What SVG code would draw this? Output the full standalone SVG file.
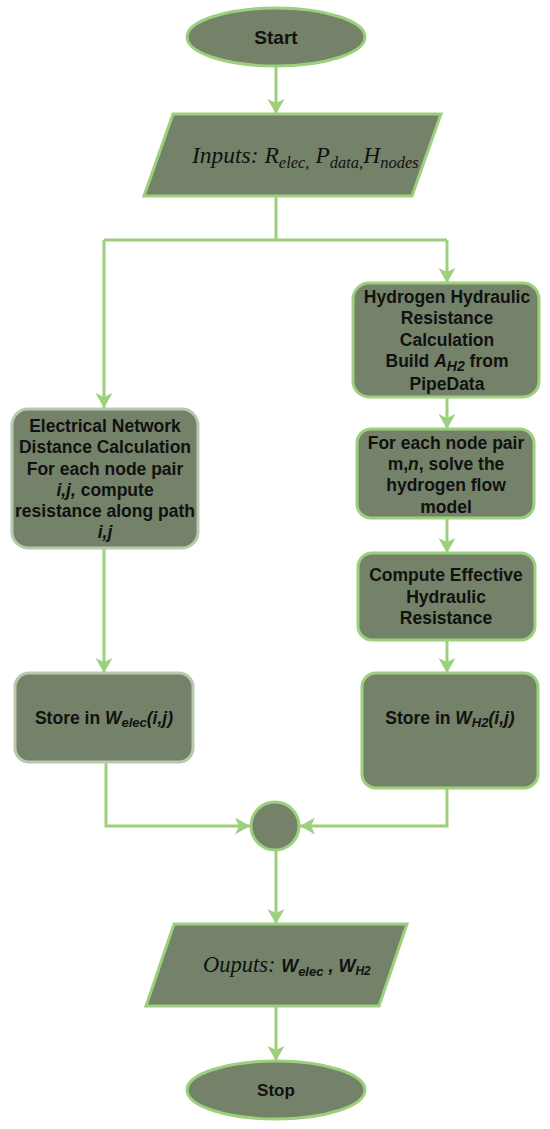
<svg xmlns="http://www.w3.org/2000/svg" width="550" height="1129" viewBox="0 0 550 1129">
<style>
.node{fill:#74826a;stroke:#9dd07c;stroke-width:3}
.pale{fill:#74826a;stroke:#b8c9ad;stroke-width:3}
.conn{fill:none;stroke:#9dd07c;stroke-width:3}
.t{font-family:"Liberation Sans",Arial,sans-serif;font-weight:bold;font-size:17.5px;fill:#111;text-anchor:middle}
.s{font-family:"Liberation Serif","Times New Roman",serif;font-style:italic;fill:#111}
.i{font-style:italic}
</style>
<defs>
<marker id="ah" markerUnits="userSpaceOnUse" markerWidth="15" markerHeight="17" viewBox="0 0 15 17" refX="15" refY="8.5" orient="auto">
<path d="M0,0 L15,8.5 L0,17 L4,8.5 z" fill="#9dd07c"/>
</marker>
</defs>
<g id="connectors">
<line class="conn" x1="276" y1="66" x2="276" y2="114" marker-end="url(#ah)"/>
<polyline class="conn" points="276,196 276,240"/>
<polyline class="conn" points="104,240 447,240"/>
<line class="conn" x1="104" y1="240" x2="104" y2="408" marker-end="url(#ah)"/>
<line class="conn" x1="447" y1="240" x2="447" y2="283" marker-end="url(#ah)"/>
<line class="conn" x1="447" y1="397" x2="447" y2="429" marker-end="url(#ah)"/>
<line class="conn" x1="447" y1="518" x2="447" y2="553" marker-end="url(#ah)"/>
<line class="conn" x1="447" y1="640" x2="447" y2="673" marker-end="url(#ah)"/>
<line class="conn" x1="104" y1="548" x2="104" y2="673" marker-end="url(#ah)"/>
<polyline class="conn" points="106,762 106,826 250,826" marker-end="url(#ah)"/>
<polyline class="conn" points="447,788 447,826 300,826" marker-end="url(#ah)"/>
<line class="conn" x1="276" y1="850" x2="276" y2="924" marker-end="url(#ah)"/>
<line class="conn" x1="276" y1="1006" x2="276" y2="1061" marker-end="url(#ah)"/>
</g>
<g id="start">
<ellipse class="node" cx="276" cy="37" rx="89" ry="29"/>
<text class="t" x="276" y="44" style="font-size:19px">Start</text>
</g>
<g id="inputs">
<polygon class="node" points="173,114 441,114 412,196 144,196"/>
<text class="s" x="192" y="163" style="font-size:23.5px">Inputs: R<tspan font-size="16.5" dy="5">elec,</tspan><tspan dy="-5"> P</tspan><tspan font-size="16.5" dy="5">data,</tspan><tspan dy="-5">H</tspan><tspan font-size="16.5" dy="5">nodes</tspan></text>
</g>
<g id="elec">
<rect class="pale" x="12" y="409" width="186" height="139" rx="16"/>
<text class="t" x="105" y="432">Electrical Network</text>
<text class="t" x="105" y="453">Distance Calculation</text>
<text class="t" x="105" y="475">For each node pair</text>
<text class="t" x="105" y="496"><tspan class="i">i,j,</tspan> compute</text>
<text class="t" x="105" y="517">resistance along path</text>
<text class="t" x="105" y="538"><tspan class="i">i,j</tspan></text>
</g>
<g id="hyd1">
<rect class="node" x="353" y="283" width="186" height="114" rx="16"/>
<text class="t" x="447" y="303">Hydrogen Hydraulic</text>
<text class="t" x="447" y="324">Resistance</text>
<text class="t" x="447" y="346">Calculation</text>
<text class="t" x="447" y="367">Build <tspan class="i">A</tspan><tspan class="i" font-size="14" dy="4">H2</tspan><tspan dy="-4"> from</tspan></text>
<text class="t" x="447" y="390">PipeData</text>
</g>
<g id="hyd2">
<rect class="node" x="357" y="429" width="177" height="89" rx="14"/>
<text class="t" x="446" y="449">For each node pair</text>
<text class="t" x="446" y="470">m,<tspan class="i">n</tspan>, solve the</text>
<text class="t" x="446" y="491">hydrogen flow</text>
<text class="t" x="446" y="513">model</text>
</g>
<g id="hyd3">
<rect class="node" x="358" y="553" width="177" height="87" rx="14"/>
<text class="t" x="446" y="581">Compute Effective</text>
<text class="t" x="446" y="603">Hydraulic</text>
<text class="t" x="446" y="624">Resistance</text>
</g>
<g id="storeH2">
<rect class="node" x="362" y="673" width="176" height="115" rx="14"/>
<text class="t" x="450" y="724">Store in <tspan class="i">W</tspan><tspan class="i" font-size="13" dy="3">H2</tspan><tspan class="i" dy="-3">(i,j)</tspan></text>
</g>
<g id="storeElec">
<rect class="pale" x="15" y="673" width="178" height="89" rx="14"/>
<text class="t" x="104" y="724">Store in <tspan class="i">W</tspan><tspan class="i" font-size="13" dy="3">elec</tspan><tspan class="i" dy="-3">(i,j)</tspan></text>
</g>
<g id="merge">
<circle class="node" cx="275" cy="826" r="24"/>
</g>
<g id="outputs">
<polygon class="node" points="174,924 407,924 379,1006 146,1006"/>
<text class="s" x="203" y="972" style="font-size:22.5px">Ouputs: <tspan style="font-family:'Liberation Sans',Arial,sans-serif;font-weight:bold;font-size:18px">W<tspan font-size="13" dy="4">elec</tspan><tspan dy="-4" font-size="18"> , W</tspan><tspan font-size="12" dy="3">H2</tspan></tspan></text>
</g>
<g id="stop">
<ellipse class="node" cx="276" cy="1090" rx="89" ry="29"/>
<text class="t" x="276" y="1096" style="font-size:17px">Stop</text>
</g>
</svg>
